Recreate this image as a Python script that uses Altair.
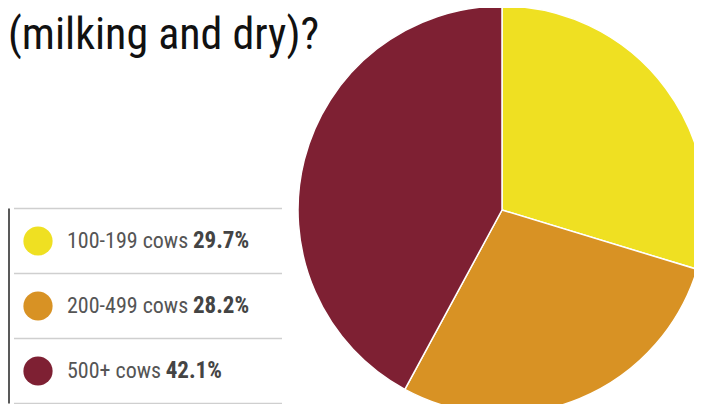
import math
import altair as alt
import pandas as pd

# ---- data ----
title_text = "(milking and dry)?"
categories = ["100-199 cows", "200-499 cows", "500+ cows"]
shares = [29.7, 28.2, 42.1]
colors = ["#EFE022", "#D89224", "#7E2033"]

FONT = "Roboto Condensed, sans-serif"
W, H = 686, 396
CX, CY, R = 494, 202, 204
LABEL_X = 59
LABEL_SIZE = 22

# approximate condensed-font advance widths (per 1000 em) for estimating label width
_adv = {d: 556 for d in "0123456789"}
_adv.update({"-": 333, " ": 278, "c": 500, "o": 556, "w": 722, "s": 500, "+": 584})


def text_width(s, size):
    return sum(_adv.get(ch, 556) for ch in s) * 0.82 * size / 1000 * 1.068


df = pd.DataFrame({
    "category": categories,
    "share": shares,
    "row": list(range(len(categories))),
    "pct": [f"{v:.1f}%" for v in shares],
})
df["pct_x"] = [LABEL_X + text_width(c, LABEL_SIZE) + 6 for c in categories]
seps = pd.DataFrame({"sep": [i - 0.5 for i in range(len(categories) + 1)]})
title_df = pd.DataFrame({"t": [title_text]})

ys = alt.Scale(domain=[0, len(categories) - 1], range=[233, 363])
color_scale = alt.Scale(domain=categories, range=colors)

pie = alt.Chart(df).mark_arc(radius=R, stroke="white", strokeWidth=1.5).encode(
    theta=alt.Theta("share:Q", stack=True),
    order=alt.Order("row:Q"),
    color=alt.Color("category:N", scale=color_scale, legend=None),
    x=alt.value(CX),
    y=alt.value(CY),
)

sep_rules = alt.Chart(seps).mark_rule(color="#cfcfcf", strokeWidth=1.5).encode(
    y=alt.Y("sep:Q", scale=ys, axis=None),
    x=alt.value(6),
    x2=alt.value(274),
)

vline = alt.Chart(seps).mark_rule(color="#222222", strokeWidth=1.5).encode(
    x=alt.value(1),
    y=alt.Y("min(sep):Q", scale=ys, axis=None),
    y2=alt.Y2("max(sep):Q"),
)

dots = alt.Chart(df).mark_circle(size=math.pi * 16.5 ** 2, opacity=1).encode(
    x=alt.value(30),
    y=alt.Y("row:Q", scale=ys, axis=None),
    color=alt.Color("category:N", scale=color_scale, legend=None),
)

labels = alt.Chart(df).mark_text(
    align="left", baseline="middle", fontSize=LABEL_SIZE, font=FONT, color="#555555"
).encode(
    x=alt.value(LABEL_X),
    y=alt.Y("row:Q", scale=ys, axis=None),
    text="category:N",
)

pcts = alt.Chart(df).mark_text(
    align="left", baseline="middle", fontSize=23, font=FONT, fontWeight="bold", color="#444444"
).encode(
    x=alt.X("pct_x:Q", scale=None, axis=None),
    y=alt.Y("row:Q", scale=ys, axis=None),
    text="pct:N",
)

title = alt.Chart(title_df).mark_text(
    align="left", baseline="alphabetic", fontSize=44, font=FONT, color="#111111"
).encode(
    x=alt.value(0),
    y=alt.value(41),
    text="t:N",
)

chart = alt.layer(pie, sep_rules, vline, dots, labels, pcts, title).properties(
    width=W, height=H, padding=0, autosize="none", background="white"
).configure_view(stroke=None)

chart.save("out.html", embed_options={"renderer": "svg", "actions": False})
